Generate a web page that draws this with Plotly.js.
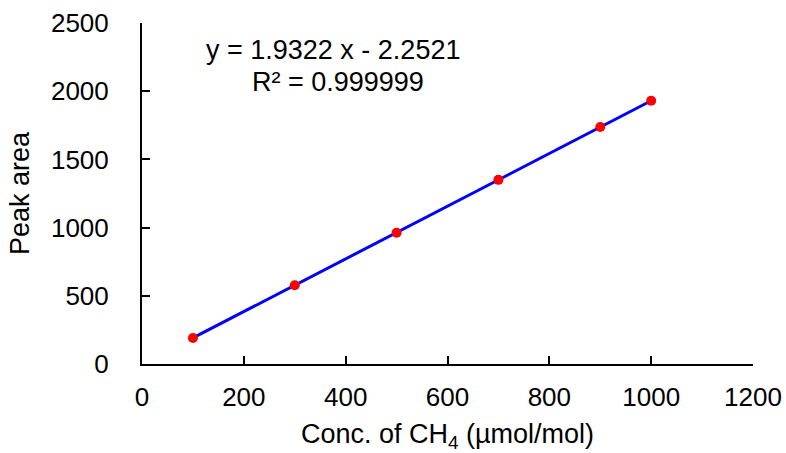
<!DOCTYPE html>
<html><head><meta charset="utf-8">
<script src="https://cdn.plot.ly/plotly-3.0.1.min.js"></script>
<style>html,body{margin:0;padding:0;background:#fff;}#chart{width:786px;height:453px;}</style>
</head><body><div id="chart"></div>
<script>
const conc = [100, 300, 500, 700, 900, 1000];
const peakArea = [191, 577, 962, 1350, 1737, 1930];
const fitSlope = [1.9322];
const fitIntercept = [-2.2521];
const fitLabel = ["y = 1.9322 x - 2.2521", "R² = 0.999999"];
const xTicks = [0, 200, 400, 600, 800, 1000, 1200];
const yTicks = [0, 500, 1000, 1500, 2000, 2500];

const fitX = [conc[0], conc[conc.length - 1]];
const fitY = fitX.map(x => fitSlope[0] * x + fitIntercept[0]);

const font = "Arial, 'Liberation Sans', sans-serif";
const traces = [
  {x: fitX, y: fitY, mode: 'lines', line: {color: '#0000ff', width: 3}, hoverinfo: 'skip'},
  {x: conc, y: peakArea, mode: 'markers', marker: {color: '#ff0000', size: 10}}
];
const axisCommon = {
  showgrid: false, zeroline: false, showline: true, linecolor: '#000', linewidth: 2,
  ticks: 'inside', ticklen: 8, tickwidth: 2, tickcolor: '#000',
  tickfont: {family: font, size: 26, color: '#000'}, fixedrange: true
};
const layout = {
  width: 786, height: 453,
  margin: {l: 142, r: 33, t: 23, b: 89},
  paper_bgcolor: '#fff', plot_bgcolor: '#fff',
  showlegend: false,
  xaxis: Object.assign({}, axisCommon, {
    range: [0, 1200], tickvals: xTicks, ticktext: xTicks.map(String), ticklabelstandoff: 9,
    title: {text: 'Conc. of CH<sub>4</sub> (µmol/mol)', font: {family: font, size: 27, color: '#000'}, standoff: 14}
  }),
  yaxis: Object.assign({}, axisCommon, {
    range: [0, 2500], tickvals: yTicks, ticktext: yTicks.map(String), ticklabelstandoff: 26,
    title: {text: 'Peak area', font: {family: font, size: 27, color: '#000'}, standoff: 14}
  }),
  annotations: [
    {xref: 'x', yref: 'y', x: 375, y: 2300, text: fitLabel[0], showarrow: false, font: {family: font, size: 27, color: '#000'}},
    {xref: 'x', yref: 'y', x: 384, y: 2068, text: fitLabel[1], showarrow: false, font: {family: font, size: 27, color: '#000'}}
  ]
};
Plotly.newPlot('chart', traces, layout, {staticPlot: true, displayModeBar: false});
</script></body></html>
